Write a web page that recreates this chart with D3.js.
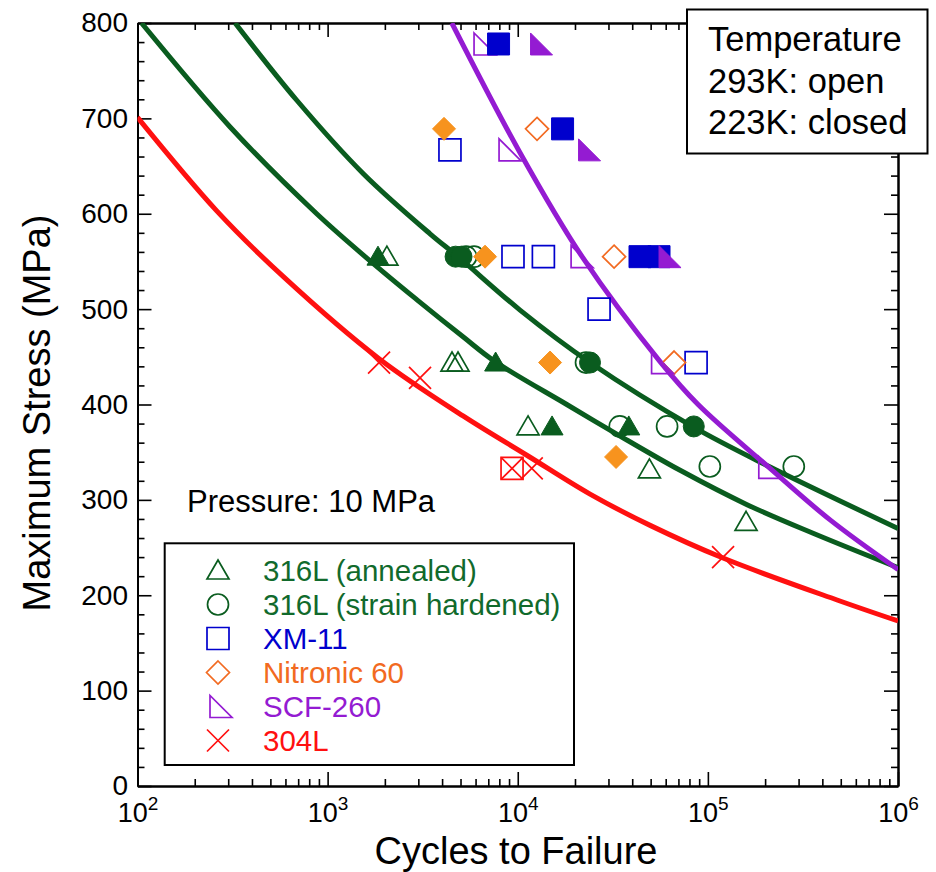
<!DOCTYPE html>
<html>
<head>
<meta charset="utf-8">
<script src="https://cdn.jsdelivr.net/npm/d3@7"></script>
<style>
  body { margin: 0; background: #fff; }
  svg { font-family: "Liberation Sans", Arial, Helvetica, sans-serif; }
</style>
</head>
<body>
<script>
// fatigue data: [cycles, max stress MPa]; 293K = open symbols, 223K = filled
const annealed293 = [[2050,555],[4510,444],[4850,444],[11330,377],[49250,332],[158800,277]];
const annealed223 = [[1840,555],[7650,444],[15150,377],[38370,377]];
const hardened293 = [[5350,555],[5890,555],[22860,444],[34400,377],[61020,377],[102400,335],[283100,335]];
const hardened223 = [[4710,555],[5060,555],[23990,444],[84300,377]];
const xm11_293 = [[4400,667],[9440,555],[13640,555],[26770,500],[86700,444]];
const xm11_223 = [[7925,778],[17210,689],[43960,555],[55340,555]];
const nitronic293 = [[12630,689],[32110,555],[66400,444]];
const nitronic223 = [[4095,689],[6730,555],[14790,444],[32890,345]];
const scf293 = [[6730,778],[9110,667],[21800,555],[57780,444],[211700,334]];
const scf223 = [[13340,778],[23860,667],[63240,555]];
const l304 = [[1864,444],[3062,428],[9333,333],[11850,333],[120200,240]];
const l304Boxed = [[9333,333]];

// design curves
const fitAnnealed = [[105,800],[307,691],[876,600],[1733,548],[2942,510],[5156,471],[7597,445],[18110,400],[33180,369],[71450,331],[160700,295],[357600,265],[1e6,229]];
const fitHardened = [[326,800],[688,719],[1541,642],[3457,579],[4853,555],[10280,499],[24000,444],[84600,376],[209900,335],[1e6,270]];
const fitScf = [[4500,800],[10280,664],[21800,555],[56050,445],[88840,400],[212400,333],[439400,279],[1e6,227]];
const fit304 = [[100,701],[261,603],[585,534],[1864,448],[5156,388],[11330,346],[24000,306],[50000,273],[120200,239],[478300,195],[1e6,173]];

const legendLabels = ["316L (annealed)", "316L (strain hardened)", "XM-11", "Nitronic 60", "SCF-260", "304L"];
const xMajor = [1e2, 1e3, 1e4, 1e5, 1e6];
const xExponents = ["2", "3", "4", "5", "6"];
const yMajor = [0, 100, 200, 300, 400, 500, 600, 700, 800];
const tempLines = ["Temperature", "293K: open", "223K: closed"];

const green = "#0a5c1f", greenText = "#116a2c", blue = "#0000cd",
      orange = "#f7931e", orangeLine = "#f26a21", purple = "#941bd2", red = "#ff1010";

const W = 936, H = 872;
const x = d3.scaleLog().domain([1e2, 1e6]).range([137.5, 898]);
const y = d3.scaleLinear().domain([0, 800]).range([786, 23]);

const svg = d3.select("body").append("svg").attr("width", W).attr("height", H);

svg.append("clipPath").attr("id", "plot")
  .append("rect").attr("x", 137.5).attr("y", 23).attr("width", 760.5).attr("height", 763);

const shapes = {
  triangle: "M0,-10.5L11,8.5L-11,8.5Z",
  circle: "M10.5,0A10.5,10.5 0 1 1 -10.5,0A10.5,10.5 0 1 1 10.5,0Z",
  square: "M-11,-11h22v22h-22Z",
  diamond: "M0,-11.5L11.5,0L0,11.5L-11.5,0Z",
  scf: "M-11,-11L-11,11L11,11Z",
  cross: "M-11,-11L11,11M11,-11L-11,11"
};

// ---- axes
function minorTicks() {
  const t = [];
  for (let e = 2; e < 6; e++) for (let m = 2; m <= 9; m++) t.push(m * Math.pow(10, e));
  return t;
}
const yMinor = d3.range(0, 801, 20).filter(v => v % 100 !== 0);

function styleAxis(g) {
  g.selectAll("path.domain").attr("stroke", "#000").attr("stroke-width", 2);
  g.selectAll(".tick line").attr("stroke", "#000").attr("stroke-width", 1.6);
}

const axes = svg.append("g");
axes.append("g").attr("transform", "translate(0,786)")
  .call(d3.axisBottom(x).tickValues(minorTicks()).tickSize(-7).tickSizeOuter(0).tickFormat(""))
  .call(styleAxis);
const xb = axes.append("g").attr("transform", "translate(0,786)")
  .call(d3.axisBottom(x).tickValues(xMajor).tickSize(-14).tickSizeOuter(0).tickPadding(17))
  .call(styleAxis);
xb.selectAll(".tick text").each(function(d, i) {
  const t = d3.select(this).text(null)
    .attr("font-size", 27).attr("font-family", "Liberation Sans, Arial, sans-serif")
    .attr("fill", "#000").attr("dy", "0.71em").attr("text-anchor", "middle");
  t.append("tspan").text("10");
  t.append("tspan").text(xExponents[i]).attr("font-size", 19).attr("dy", -12);
});
axes.append("g").attr("transform", "translate(0,23)")
  .call(d3.axisTop(x).tickValues(minorTicks()).tickSize(-7).tickSizeOuter(0).tickFormat(""))
  .call(styleAxis);
axes.append("g").attr("transform", "translate(0,23)")
  .call(d3.axisTop(x).tickValues(xMajor).tickSize(-14).tickSizeOuter(0).tickFormat(""))
  .call(styleAxis);

axes.append("g").attr("transform", "translate(137.5,0)")
  .call(d3.axisLeft(y).tickValues(yMinor).tickSize(-7).tickSizeOuter(0).tickFormat(""))
  .call(styleAxis);
const yl = axes.append("g").attr("transform", "translate(137.5,0)")
  .call(d3.axisLeft(y).tickValues(yMajor).tickSize(-14).tickSizeOuter(0).tickPadding(9.5))
  .call(styleAxis);
yl.selectAll(".tick text").attr("font-size", 28).attr("fill", "#000")
  .attr("font-family", "Liberation Sans, Arial, sans-serif");
axes.append("g").attr("transform", "translate(898,0)")
  .call(d3.axisRight(y).tickValues(yMinor).tickSize(-7).tickSizeOuter(0).tickFormat(""))
  .call(styleAxis);
axes.append("g").attr("transform", "translate(898,0)")
  .call(d3.axisRight(y).tickValues(yMajor).tickSize(-14).tickSizeOuter(0).tickFormat(""))
  .call(styleAxis);

svg.append("text").attr("x", 516).attr("y", 864).attr("text-anchor", "middle")
  .attr("font-size", 38).text("Cycles to Failure");
svg.append("text").attr("transform", "translate(50,413) rotate(-90)").attr("text-anchor", "middle")
  .attr("font-size", 38).text("Maximum Stress (MPa)");

// ---- fit curves
const line = d3.line().x(d => x(d[0])).y(d => y(d[1])).curve(d3.curveCatmullRom.alpha(0.5));
const curves = svg.append("g").attr("clip-path", "url(#plot)").attr("fill", "none")
  .attr("stroke-width", 5).attr("stroke-linecap", "butt");
[[fit304, red], [fitAnnealed, green], [fitHardened, green], [fitScf, purple]].forEach(([data, col]) => {
  curves.append("path").datum(data).attr("d", line).attr("stroke", col);
});

// ---- data points
const series = [
  { data: annealed293, shape: "triangle", color: green, filled: false },
  { data: hardened293, shape: "circle", color: green, filled: false },
  { data: xm11_293, shape: "square", color: blue, filled: false },
  { data: nitronic293, shape: "diamond", color: orangeLine, filled: false },
  { data: scf293, shape: "scf", color: purple, filled: false },
  { data: l304, shape: "cross", color: red, filled: false },
  { data: l304Boxed, shape: "square", color: red, filled: false },
  { data: annealed223, shape: "triangle", color: green, filled: true },
  { data: hardened223, shape: "circle", color: green, filled: true },
  { data: xm11_223, shape: "square", color: blue, filled: true },
  { data: nitronic223, shape: "diamond", color: orange, filled: true },
  { data: scf223, shape: "scf", color: purple, filled: true }
];
const pts = svg.append("g");
series.forEach(s => {
  pts.append("g").selectAll("path").data(s.data).join("path")
    .attr("transform", d => `translate(${x(d[0])},${y(d[1])})`)
    .attr("d", shapes[s.shape])
    .attr("fill", s.filled ? s.color : "none")
    .attr("stroke", s.color)
    .attr("stroke-width", s.filled ? 1 : 1.7);
});

// ---- pressure note
svg.append("text").attr("x", 187).attr("y", 511.5).attr("font-size", 31).text("Pressure: 10 MPa");

// ---- legend
const leg = svg.append("g");
leg.append("rect").attr("x", 164.7).attr("y", 543.3).attr("width", 409.3).attr("height", 221.7)
  .attr("fill", "#fff").attr("stroke", "#000").attr("stroke-width", 2);
const legShapes = ["triangle", "circle", "square", "diamond", "scf", "cross"];
const legColors = [green, green, blue, orangeLine, purple, red];
const legText = [greenText, greenText, blue, orangeLine, purple, red];
legendLabels.forEach((lab, i) => {
  const cy = 570.5 + i * 34;
  leg.append("path").attr("transform", `translate(${i === 4 ? 221 : 218},${cy})`)
    .attr("d", shapes[legShapes[i]]).attr("fill", "none")
    .attr("stroke", legColors[i]).attr("stroke-width", 1.7);
  leg.append("text").attr("x", 263).attr("y", cy + 10).attr("font-size", 29.5)
    .attr("fill", legText[i]).text(lab);
});

// ---- temperature box
const tb = svg.append("g");
tb.append("rect").attr("x", 687).attr("y", 9.5).attr("width", 240.5).attr("height", 144)
  .attr("fill", "#fff").attr("stroke", "#000").attr("stroke-width", 2);
tempLines.forEach((t, i) => {
  tb.append("text").attr("x", 708).attr("y", 51 + i * 41.5).attr("font-size", 34.5).text(t);
});
</script>
</body>
</html>
